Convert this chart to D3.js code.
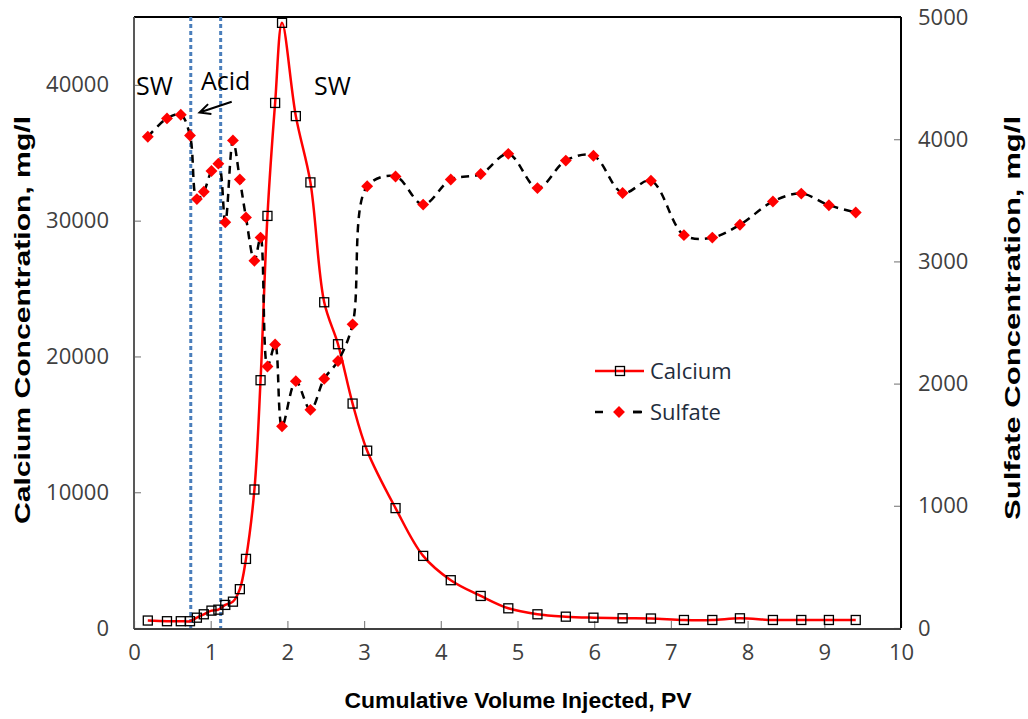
<!DOCTYPE html>
<html>
<head>
<meta charset="utf-8">
<script src="https://cdn.jsdelivr.net/npm/d3@7"></script>
<style>
  body { margin: 0; background: #fff; }
  svg text { font-family: "Open Sans", sans-serif; }
</style>
</head>
<body>
<svg id="chart" width="1028" height="719"></svg>
<script>
// cumulative volume injected (PV), shared by both series
const pv = [0.18, 0.43, 0.61, 0.73, 0.82, 0.91, 1.01, 1.10, 1.19, 1.29,
            1.38, 1.46, 1.57, 1.65, 1.74, 1.84, 1.93, 2.11, 2.30, 2.48,
            2.66, 2.85, 3.04, 3.41, 3.77, 4.13, 4.52, 4.88, 5.26, 5.63,
            5.99, 6.37, 6.74, 7.17, 7.54, 7.90, 8.33, 8.70, 9.06, 9.41];

const calcium = [550, 500, 500, 500, 760, 1010, 1280, 1350, 1700, 1940,
                 2860, 5090, 10200, 18250, 30350, 38670, 44570, 37700, 32820, 23990,
                 20900, 16530, 13060, 8830, 5310, 3520, 2360, 1450, 1010, 835,
                 760, 715, 700, 590, 590, 715, 590, 590, 590, 590];

const sulfate = [4020, 4170, 4200, 4030, 3510, 3570, 3740, 3800, 3320, 3990,
                 3670, 3360, 3005, 3195, 2140, 2320, 1650, 2020, 1785, 2040,
                 2185, 2485, 3615, 3695, 3465, 3670, 3715, 3880, 3600, 3825,
                 3865, 3560, 3660, 3215, 3195, 3300, 3490, 3555, 3460, 3400];

// acid slug boundaries (PV)
const acidBounds = [0.74, 1.13];

const xTicks = d3.range(0, 11);
const calciumTicks = [0, 10000, 20000, 30000, 40000];
const sulfateTicks = [0, 1000, 2000, 3000, 4000, 5000];

const margin = { top: 17, right: 127, bottom: 91, left: 134 };
const width = 1028 - margin.left - margin.right;
const height = 719 - margin.top - margin.bottom;

const svg = d3.select("#chart");
const g = svg.append("g").attr("transform", `translate(${margin.left},${margin.top})`);

const x = d3.scaleLinear().domain([0, 10]).range([0, width]);
const yCa = d3.scaleLinear().domain([0, 45000]).range([height, 0]);
const ySo = d3.scaleLinear().domain([0, 5000]).range([height, 0]);

const fmt = d3.format("d");

// axes (inward ticks)
const xAxis = g.append("g")
  .attr("transform", `translate(0,${height})`)
  .call(d3.axisBottom(x).tickValues(xTicks).tickFormat(fmt).tickSizeInner(-7).tickSizeOuter(0).tickPadding(16));

const leftAxis = g.append("g")
  .call(d3.axisLeft(yCa).tickValues(calciumTicks).tickFormat(fmt).tickSizeInner(-7).tickSizeOuter(0).tickPadding(25));

const rightAxis = g.append("g")
  .attr("transform", `translate(${width},0)`)
  .call(d3.axisRight(ySo).tickValues(sulfateTicks).tickFormat(fmt).tickSizeInner(-7).tickSizeOuter(0).tickPadding(17));

[xAxis, leftAxis, rightAxis].forEach(a => {
  a.select(".domain").remove();
  a.selectAll(".tick line").attr("stroke", "#868686").attr("stroke-width", 1.2);
  a.selectAll(".tick text")
    .attr("fill", "#404040")
    .style("font-size", "22px")
    .style("font-family", "'Open Sans', sans-serif");
});

// frame
g.append("line").attr("x1", 0).attr("x2", width).attr("y1", 0).attr("y2", 0)
  .attr("stroke", "#000").attr("stroke-width", 2);
g.append("line").attr("x1", width).attr("x2", width).attr("y1", 0).attr("y2", height)
  .attr("stroke", "#000").attr("stroke-width", 2);
g.append("line").attr("x1", 0).attr("x2", 0).attr("y1", 0).attr("y2", height + 1)
  .attr("stroke", "#595959").attr("stroke-width", 2);
g.append("line").attr("x1", 0).attr("x2", width).attr("y1", height + 1).attr("y2", height + 1)
  .attr("stroke", "#404040").attr("stroke-width", 2);

// acid slug markers
g.selectAll(".acid-line")
  .data(acidBounds)
  .enter().append("line")
  .attr("class", "acid-line")
  .attr("x1", d => x(d)).attr("x2", d => x(d))
  .attr("y1", 0).attr("y2", height)
  .attr("stroke", "#4a7ebb")
  .attr("stroke-width", 3)
  .attr("stroke-dasharray", "4,3");

const caData = pv.map((p, i) => ({ pv: p, v: calcium[i] }));
const soData = pv.map((p, i) => ({ pv: p, v: sulfate[i] }));

const caLine = d3.line().x(d => x(d.pv)).y(d => yCa(d.v)).curve(d3.curveCatmullRom.alpha(0.5));
const soLine = d3.line().x(d => x(d.pv)).y(d => ySo(d.v)).curve(d3.curveCatmullRom.alpha(0.5));

// calcium series
g.append("path")
  .datum(caData)
  .attr("d", caLine)
  .attr("fill", "none")
  .attr("stroke", "#ff0000")
  .attr("stroke-width", 2.5);

g.selectAll(".ca-pt")
  .data(caData)
  .enter().append("rect")
  .attr("class", "ca-pt")
  .attr("x", d => x(d.pv) - 4.5)
  .attr("y", d => yCa(d.v) - 4.5)
  .attr("width", 9).attr("height", 9)
  .attr("fill", "none")
  .attr("stroke", "#000")
  .attr("stroke-width", 1.3);

// sulfate series
g.append("path")
  .datum(soData)
  .attr("d", soLine)
  .attr("fill", "none")
  .attr("stroke", "#000")
  .attr("stroke-width", 2.5)
  .attr("stroke-dasharray", "8,6");

const diamond = d3.symbol().type(d3.symbolDiamond2).size(90);
g.selectAll(".so-pt")
  .data(soData)
  .enter().append("path")
  .attr("class", "so-pt")
  .attr("transform", d => `translate(${x(d.pv)},${ySo(d.v)})`)
  .attr("d", diamond)
  .attr("fill", "#ff0000");

// annotations
const note = svg.append("g").attr("fill", "#000").style("font-size", "25px");
note.append("text").attr("x", 136).attr("y", 95).text("SW");
note.append("text").attr("x", 201).attr("y", 90).text("Acid");
note.append("text").attr("x", 314).attr("y", 95).text("SW");

// arrow pointing at the first acid boundary
const ax0 = 231.7, ay0 = 101.7, ax1 = 199.5, ay1 = 112.5;
const ang = Math.atan2(ay1 - ay0, ax1 - ax0);
const headLen = 12, spread = 0.45;
svg.append("path")
  .attr("d", `M${ax0},${ay0}L${ax1},${ay1}` +
    `M${ax1 - headLen * Math.cos(ang - spread)},${ay1 - headLen * Math.sin(ang - spread)}L${ax1},${ay1}` +
    `L${ax1 - headLen * Math.cos(ang + spread)},${ay1 - headLen * Math.sin(ang + spread)}`)
  .attr("fill", "none")
  .attr("stroke", "#000")
  .attr("stroke-width", 2);

// legend
const legend = svg.append("g").attr("transform", "translate(595,371)");
const legendRows = [
  { name: "Calcium", dy: 0 },
  { name: "Sulfate", dy: 41 }
];
const rows = legend.selectAll(".legend-row")
  .data(legendRows)
  .enter().append("g")
  .attr("class", "legend-row")
  .attr("transform", d => `translate(0,${d.dy})`);

rows.filter(d => d.name === "Calcium").call(r => {
  r.append("line").attr("x1", 0).attr("x2", 49).attr("stroke", "#ff0000").attr("stroke-width", 2.5);
  r.append("rect").attr("x", 20.5).attr("y", -4.5).attr("width", 9).attr("height", 9)
    .attr("fill", "none").attr("stroke", "#000").attr("stroke-width", 1.3);
});
rows.filter(d => d.name === "Sulfate").call(r => {
  r.append("line").attr("x1", 0).attr("x2", 49).attr("stroke", "#000").attr("stroke-width", 2.5)
    .attr("stroke-dasharray", "8,30");
  r.append("line").attr("x1", 38).attr("x2", 47).attr("stroke", "#000").attr("stroke-width", 2.5);
  r.append("path").attr("transform", "translate(24,0)").attr("d", diamond).attr("fill", "#ff0000");
});
rows.append("text")
  .attr("x", 55)
  .attr("y", 8)
  .attr("fill", "#1f2d3d")
  .style("font-size", "22px")
  .text(d => d.name);

// axis titles
const titleStyle = sel => sel
  .attr("text-anchor", "middle")
  .attr("fill", "#000")
  .style("font-weight", "bold")
  .style("font-size", "22px")
  .style("font-family", "'Liberation Sans', sans-serif");

svg.append("text")
  .attr("x", 518).attr("y", 708)
  .attr("textLength", 347).attr("lengthAdjust", "spacingAndGlyphs")
  .call(titleStyle)
  .text("Cumulative Volume Injected, PV");

svg.append("text")
  .attr("transform", "translate(30,320) rotate(-90)")
  .attr("textLength", 408).attr("lengthAdjust", "spacingAndGlyphs")
  .call(titleStyle)
  .text("Calcium Concentration, mg/l");

svg.append("text")
  .attr("transform", "translate(1020,318) rotate(-90)")
  .attr("textLength", 404).attr("lengthAdjust", "spacingAndGlyphs")
  .call(titleStyle)
  .text("Sulfate Concentration, mg/l");
</script>
</body>
</html>
